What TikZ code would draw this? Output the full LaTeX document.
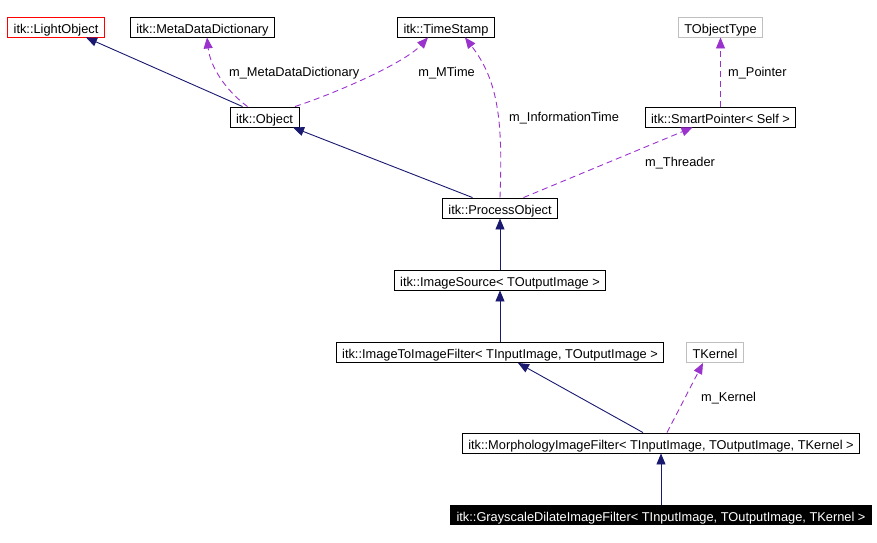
\documentclass[tikz,border=0pt]{standalone}
\usepackage{fontspec}
\setmainfont{Liberation Sans}
\usetikzlibrary{arrows.meta,positioning,calc}
\definecolor{navyc}{RGB}{25,25,112}
\definecolor{orchidc}{RGB}{154,50,205}
\definecolor{extc}{RGB}{191,191,191}

\begin{document}
\begin{tikzpicture}[x=1pt,y=-1pt,
    cls/.style={draw=black,line width=0.9pt,inner xsep=6pt,inner ysep=0pt,
      text height=12pt,text depth=0pt,
      minimum height=20pt,font=\fontsize{12.8}{16}\selectfont},
    lbl/.style={inner sep=0pt,anchor=west,font=\fontsize{12.8}{16}\selectfont},
    inherit/.style={draw=navyc,line width=0.9pt,-{Triangle[length=11pt,width=9pt]}},
    uses/.style={draw=orchidc,line width=0.9pt,dash pattern=on 6pt off 4pt,
      -{Triangle[length=11pt,width=9pt]}}]
  \useasboundingbox (0,0) rectangle (877,542);
  % classes
  \node[cls,draw=red] (light) at (56,27) {itk::LightObject};
  \node[cls] (meta) at (202.5,27) {itk::MetaDataDictionary};
  \node[cls] (time) at (446,27) {itk::TimeStamp};
  \node[cls,draw=extc] (tobj) at (720.5,27) {TObjectType};
  \node[cls] (object) at (264.5,117) {itk::Object};
  \node[cls] (smart) at (720.5,117) {itk::SmartPointer< Self >};
  \node[cls] (process) at (500,208) {itk::ProcessObject};
  \node[cls] (source) at (500,280) {itk::ImageSource< TOutputImage >};
  \node[cls] (imgfilt) at (500,352.5) {itk::ImageToImageFilter< TInputImage, TOutputImage >};
  \node[cls,draw=extc] (tkernel) at (715,352.5) {TKernel};
  \node[cls] (morph) at (661,443) {itk::MorphologyImageFilter< TInputImage, TOutputImage, TKernel >};
  \node[cls,fill=black,text=white,minimum height=19pt] (gray) at (661,515)
    {itk::GrayscaleDilateImageFilter< TInputImage, TOutputImage, TKernel >};
  % member labels
  \node[lbl] (lmeta) at (229,73) {m\_MetaDataDictionary};
  \node[lbl,anchor=east] (lmtime) at (475,73) {m\_MTime};
  \node[lbl] (linfo) at (509,118) {m\_InformationTime};
  \node[lbl] (lthr) at (645,163) {m\_Threader};
  \node[lbl] (lptr) at (728,73) {m\_Pointer};
  \node[lbl] (lker) at (701,398) {m\_Kernel};
  % inheritance
  \draw[inherit] ([xshift=-22pt]object.north) -- ([xshift=30pt]light.south);
  \draw[inherit] ([xshift=-27.5pt]process.north) -- ([xshift=28.5pt]object.south);
  \draw[inherit] (source) -- (process);
  \draw[inherit] (imgfilt) -- (source);
  \draw[inherit] ([xshift=-18pt]morph.north) -- ([xshift=18pt]imgfilt.south);
  \draw[inherit] (gray) -- (morph);
  % usage
  \draw[uses] ([xshift=-17pt]object.north) .. controls +(-23,-17) and +(3,28) .. ([xshift=4.5pt]meta.south);
  \draw[uses] ([xshift=30.5pt]object.north) .. controls +(45,-15) and +(-23,25) .. ([xshift=-18pt]time.south);
  \draw[uses] (process.north) .. controls +(3,-78) and +(33,43) .. ([xshift=19pt]time.south);
  \draw[uses] ([xshift=23.5pt]process.north) -- ([xshift=-28pt]smart.south);
  \draw[uses] (smart) -- (tobj);
  \draw[uses] ([xshift=6pt]morph.north) -- ([xshift=-12pt]tkernel.south);
\end{tikzpicture}
\end{document}
